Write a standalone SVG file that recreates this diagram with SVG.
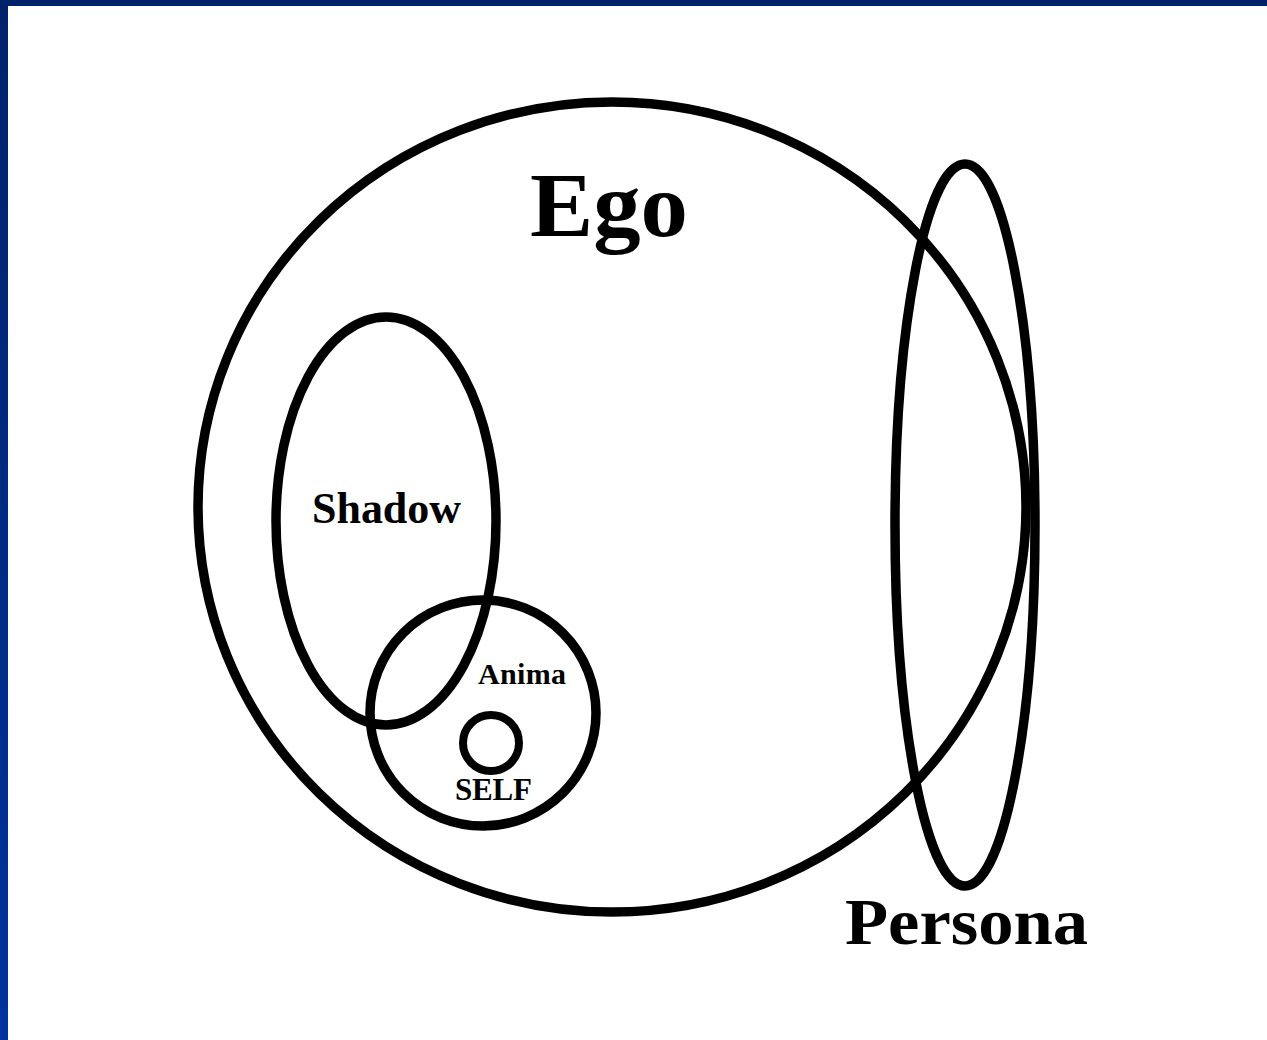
<svg xmlns="http://www.w3.org/2000/svg" width="1267" height="1040" viewBox="0 0 1267 1040">
<defs>
<linearGradient id="frame" x1="0" y1="0" x2="0" y2="1">
<stop offset="0" stop-color="#00226A"/>
<stop offset="1" stop-color="#00339C"/>
</linearGradient>
<style>
.ring{fill:none;stroke:#000;stroke-width:9.5}
.lbl{font-family:"Liberation Serif","Times New Roman",serif;font-weight:bold;fill:#000}
</style>
</defs>
<rect x="0" y="0" width="1267" height="1040" fill="#fff"/>
<rect x="0" y="0" width="1267" height="6" fill="#00226A"/>
<rect x="0" y="0" width="8" height="1040" fill="url(#frame)"/>
<g id="ego">
<ellipse class="ring" cx="612" cy="507" rx="414" ry="405"/>
<text class="lbl" x="530" y="236" font-size="91" textLength="158" lengthAdjust="spacingAndGlyphs">Ego</text>
</g>
<g id="persona">
<ellipse class="ring" cx="965" cy="525" rx="70" ry="361"/>
<text class="lbl" x="845" y="944" font-size="66" textLength="243" lengthAdjust="spacingAndGlyphs">Persona</text>
</g>
<g id="shadow">
<ellipse class="ring" cx="386" cy="521" rx="110" ry="204"/>
<text class="lbl" x="312" y="523" font-size="44" textLength="149">Shadow</text>
</g>
<g id="anima">
<circle class="ring" cx="483" cy="713" r="113"/>
<text class="lbl" x="478" y="684" font-size="30" textLength="88">Anima</text>
</g>
<g id="self">
<circle class="ring" cx="491" cy="743" r="28" style="stroke-width:8"/>
<text class="lbl" x="455" y="800" font-size="31" textLength="77">SELF</text>
</g>
<g id="connectors"></g>
</svg>
